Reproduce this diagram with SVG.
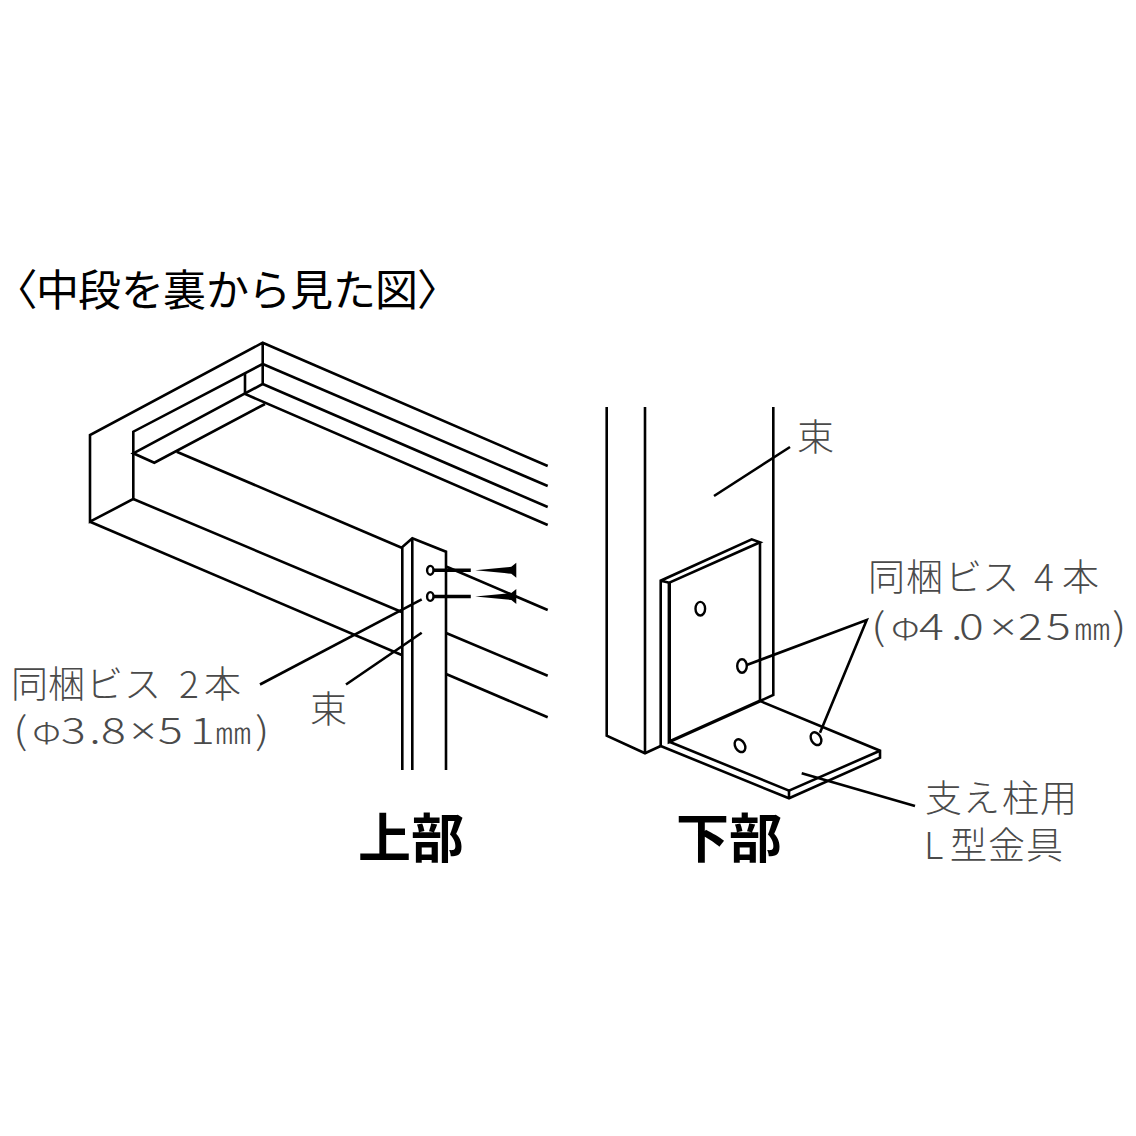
<svg xmlns="http://www.w3.org/2000/svg" width="1136" height="1136" viewBox="0 0 1136 1136">
<style>
.l{fill:none;stroke:#000;stroke-width:2.6;stroke-linejoin:miter}
.t{stroke-width:3.4}
.h{fill:#fff;stroke:#000;stroke-width:2.4}
.lb{font-family:"Noto Sans CJK JP","Noto Sans",sans-serif;font-weight:300;font-size:37px;fill:#4a4a4a}
.ti{font-family:"Noto Sans CJK JP","Noto Sans",sans-serif;font-size:43px;fill:#000}
.hd{font-family:"Noto Sans CJK JP","Noto Sans",sans-serif;font-weight:700;font-size:53px;fill:#000}
.x{font-family:"Noto Sans",sans-serif}
.m{font-size:29px}
.p{font-feature-settings:"palt"}
</style>
<defs>
<g id="screw">
<path d="M-3 0H40.500" stroke="#000" stroke-width="3.600" fill="none"/>
<ellipse cx="0" cy="0" rx="3.200" ry="4.400" fill="#fff" stroke="#000" stroke-width="2.400"/>
<polygon points="45,0 74,-2.800 81,-3.500 86,-7.500 86,7.500 81,3.500 74,2.800" fill="#000"/>
</g>
</defs>
<rect width="1136" height="1136" fill="#fff"/>
<g id="shelf">
<path class="l" d="M547.700 466L262.700 342.700L90 435V521.700L133.300 499V431.700L262.700 364V342.700"/>
<path class="l" d="M262.700 364V384L133.300 453.300L154.300 462.700L265 404"/>
<path class="l" d="M262.700 364L547.700 486"/>
<path class="l" d="M262.700 384L547.700 507"/>
<path class="l" d="M245 373.300V394L547.700 525"/>
<path class="l" d="M176.700 451.700L401.700 547.700"/>
<path class="l" d="M133.300 499L401.700 612"/>
<path class="l" d="M90 521.700L401.700 655"/>
<path class="l" d="M446.700 566.700L547.700 610"/>
<path class="l" d="M446.700 633.300L547.700 675.700"/>
<path class="l" d="M446.700 674.300L547.700 717.300"/>
</g>
<g id="post-upper">
<path class="l" d="M402.300 770V547L412.300 538.300L446 551.700V770"/>
<path class="l" d="M412.300 538.300V770"/>
</g>
<g id="screws-upper">
<use href="#screw" x="430.300" y="570.300"/>
<use href="#screw" x="430.300" y="596.500"/>
</g>
<g id="post-lower">
<path class="l" d="M606.700 407V735.700L645 753.300L660.700 746"/>
<path class="l" d="M645 407V753.300"/>
<path class="l" d="M773.300 407V695L760 701"/>
</g>
<g id="bracket">
<path class="l" d="M660.700 746V580.700L751.700 539.300L760 542.300L669.300 582.700L660.700 580.700"/>
<path class="l t" d="M669.300 582.700V741.700L760 701"/>
<path class="l" d="M760 542.300V701L880 750.700V757.700L789 798.300L660.700 746"/>
<path class="l" d="M669.300 741.700L789 790.700L880 750.700"/>
<path class="l" d="M789 790.700V798.300"/>
<ellipse class="h" cx="700.300" cy="608.700" rx="4.800" ry="6.800"/>
<ellipse class="h" cx="742" cy="666" rx="4.800" ry="6.800"/>
<ellipse class="h" cx="740" cy="745.700" rx="4.800" ry="6.800" transform="rotate(-30 740 745.700)"/>
<ellipse class="h" cx="816" cy="738.700" rx="4.800" ry="6.800" transform="rotate(-30 816 738.700)"/>
</g>
<g id="connectors">
<path class="l" d="M260 684.500L421.700 599.300"/>
<path class="l" d="M346 684.500L421.700 632.700"/>
<path class="l" d="M714 496L790 447"/>
<path class="l" d="M746.700 665L866.700 620L820 732.700"/>
<path class="l" d="M801.700 773.300L915 806"/>
</g>
<g id="labels">
<text class="ti" x="15 36 78 121 163 206 248 290 333 375 417" y="306"><tspan class="p">〈</tspan>中段を裏から見た図〉</text>
<text class="lb" x="11 48 86 124 160 179 204" y="698">同梱ビス 2本</text>
<text class="lb" transform="translate(0 744) scale(1.25 1)" x="10.400 26 48.800 71.500 80.800 104 126.400 152 172 204"><tspan>(</tspan><tspan class="m">Φ</tspan><tspan>3.8</tspan><tspan class="x">×</tspan><tspan>51</tspan><tspan class="m">㎜</tspan><tspan>)</tspan></text>
<text class="lb" x="310" y="723">束</text>
<text class="lb" x="797" y="451">束</text>
<text class="lb" x="868 906 945 982 1015 1034 1062" y="591">同梱ビス 4本</text>
<text class="lb" transform="translate(0 640) scale(1.25 1)" x="696.800 713 735.200 760.800 767.200 792 814.400 836.800 859.200 889.600"><tspan>(</tspan><tspan class="m">Φ</tspan><tspan>4.0</tspan><tspan class="x">×</tspan><tspan>25</tspan><tspan class="m">㎜</tspan><tspan>)</tspan></text>
<text class="lb" x="925 963 1002 1040" y="812">支え柱用</text>
<text class="lb" x="924 950 988 1026" y="859">L型金具</text>
<text class="hd" x="358" y="858">上部</text>
<text class="hd" x="676" y="858">下部</text>
</g>
</svg>
